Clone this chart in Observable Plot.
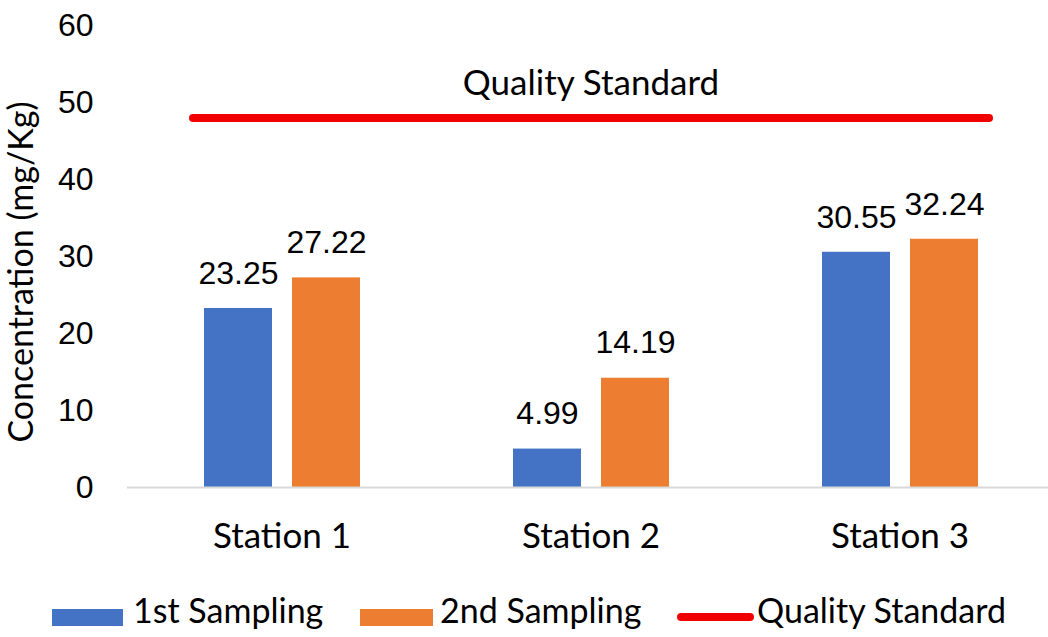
<!DOCTYPE html>
<html>
<head>
<meta charset="utf-8">
<script src="https://cdn.jsdelivr.net/npm/d3@7"></script>
<script src="https://cdn.jsdelivr.net/npm/@observablehq/plot@0.6"></script>
<style>
  html, body { margin: 0; padding: 0; background: #fff; }
  body { font-family: Lato, "Open Sans", sans-serif; color: #000; }
  #wrap { width: 1048px; height: 637px; position: relative; overflow: hidden; }
  #legend { position: absolute; left: 0; top: 580px; width: 1048px; height: 57px; font-size: 34px; }
  .sw { position: absolute; }
  .lt { position: absolute; line-height: 1; white-space: nowrap; }
  #ytitle { position: absolute; left: 20px; top: 272px; font-size: 34px; line-height: 1; white-space: nowrap;
            transform: translate(-50%, -50%) rotate(-90deg); }
</style>
</head>
<body>
<div id="wrap">
  <div id="chart"></div>
  <div id="ytitle"></div>
  <div id="legend"></div>
</div>
<script>
// ---- data ----
const stations = ["Station 1", "Station 2", "Station 3"];
const seriesNames = ["1st Sampling", "2nd Sampling"];
const firstSampling = [23.25, 4.99, 30.55];
const secondSampling = [27.22, 14.19, 32.24];
const qualityStandard = 48;
const standardName = "Quality Standard";
const yTicks = [0, 10, 20, 30, 40, 50, 60];
const yTitle = "Concentration (mg/Kg)";
const seriesColors = ["#4472C4", "#ED7D31"];
const standardColor = "#F00000";

// table for the library
const rows = stations.flatMap((s, i) => [
  {station: s, series: seriesNames[0], value: firstSampling[i]},
  {station: s, series: seriesNames[1], value: secondSampling[i]}
]);
const stdFirst = [{station: stations[0], v: qualityStandard}];
const stdMid = [{station: stations[1], v: qualityStandard}];
const stdLast = [{station: stations[2], v: qualityStandard}];
const stdLabel = [{station: stations[1], v: qualityStandard, t: standardName}];

const numFont = "'Liberation Sans', Arial, sans-serif";

const plot = Plot.plot({
  width: 1048,
  height: 580,
  marginTop: 25,
  marginBottom: 93,
  marginLeft: 127,
  marginRight: -6,
  style: {fontFamily: "Lato, sans-serif", fontSize: "34px", color: "#000", background: "#fff"},
  fx: {domain: stations, padding: 0, label: null},
  x: {domain: seriesNames, paddingInner: 20 / 88, paddingOuter: 0.869, axis: null},
  y: {domain: [0, 60], label: null},
  color: {domain: seriesNames, range: seriesColors},
  marks: [
    Plot.axisY({ticks: yTicks, tickSize: 0, tickPadding: 34, label: null, fontFamily: numFont, fontSize: 32}),
    Plot.axisFx({anchor: "bottom", tickSize: 0, tickPadding: 36, label: null, fontFamily: "Lato, sans-serif", fontSize: 35}),
    Plot.barY(rows, {fx: "station", x: "series", y: "value", fill: "series"}),
    Plot.ruleY([0], {stroke: "#D9D9D9", strokeWidth: 2}),
    Plot.text(rows, {fx: "station", x: "series", y: "value", text: d => d.value.toFixed(2), dy: -35, fontSize: 32, fontFamily: numFont, fill: "#000"}),
    Plot.ruleY(stdFirst, {fx: "station", y: "v", stroke: standardColor, strokeWidth: 8, strokeLinecap: "round", insetLeft: 66}),
    Plot.ruleY(stdMid, {fx: "station", y: "v", stroke: standardColor, strokeWidth: 8, strokeLinecap: "round"}),
    Plot.ruleY(stdLast, {fx: "station", y: "v", stroke: standardColor, strokeWidth: 8, strokeLinecap: "round", insetRight: 65}),
    Plot.text(stdLabel, {fx: "station", y: "v", text: "t", dy: -34, fontSize: 35, fill: "#000"})
  ]
});
document.getElementById("chart").appendChild(plot);
document.getElementById("ytitle").textContent = yTitle;

// ---- legend (HTML) ----
const legend = document.getElementById("legend");
const items = [
  {name: seriesNames[0], color: seriesColors[0], kind: "box", sx: 52, sw: 71, tx: 133},
  {name: seriesNames[1], color: seriesColors[1], kind: "box", sx: 360, sw: 73, tx: 440},
  {name: standardName, color: standardColor, kind: "line", sx: 677, sw: 77, tx: 757}
];
for (const it of items) {
  const sw = document.createElement("div");
  sw.className = "sw";
  sw.style.left = it.sx + "px";
  sw.style.width = it.sw + "px";
  sw.style.background = it.color;
  if (it.kind === "box") { sw.style.top = "29px"; sw.style.height = "17px"; }
  else { sw.style.top = "33px"; sw.style.height = "8px"; sw.style.borderRadius = "4px"; }
  legend.appendChild(sw);
  const t = document.createElement("div");
  t.className = "lt";
  t.style.left = it.tx + "px";
  t.style.top = "13px";
  t.textContent = it.name;
  legend.appendChild(t);
}
</script>
</body>
</html>
